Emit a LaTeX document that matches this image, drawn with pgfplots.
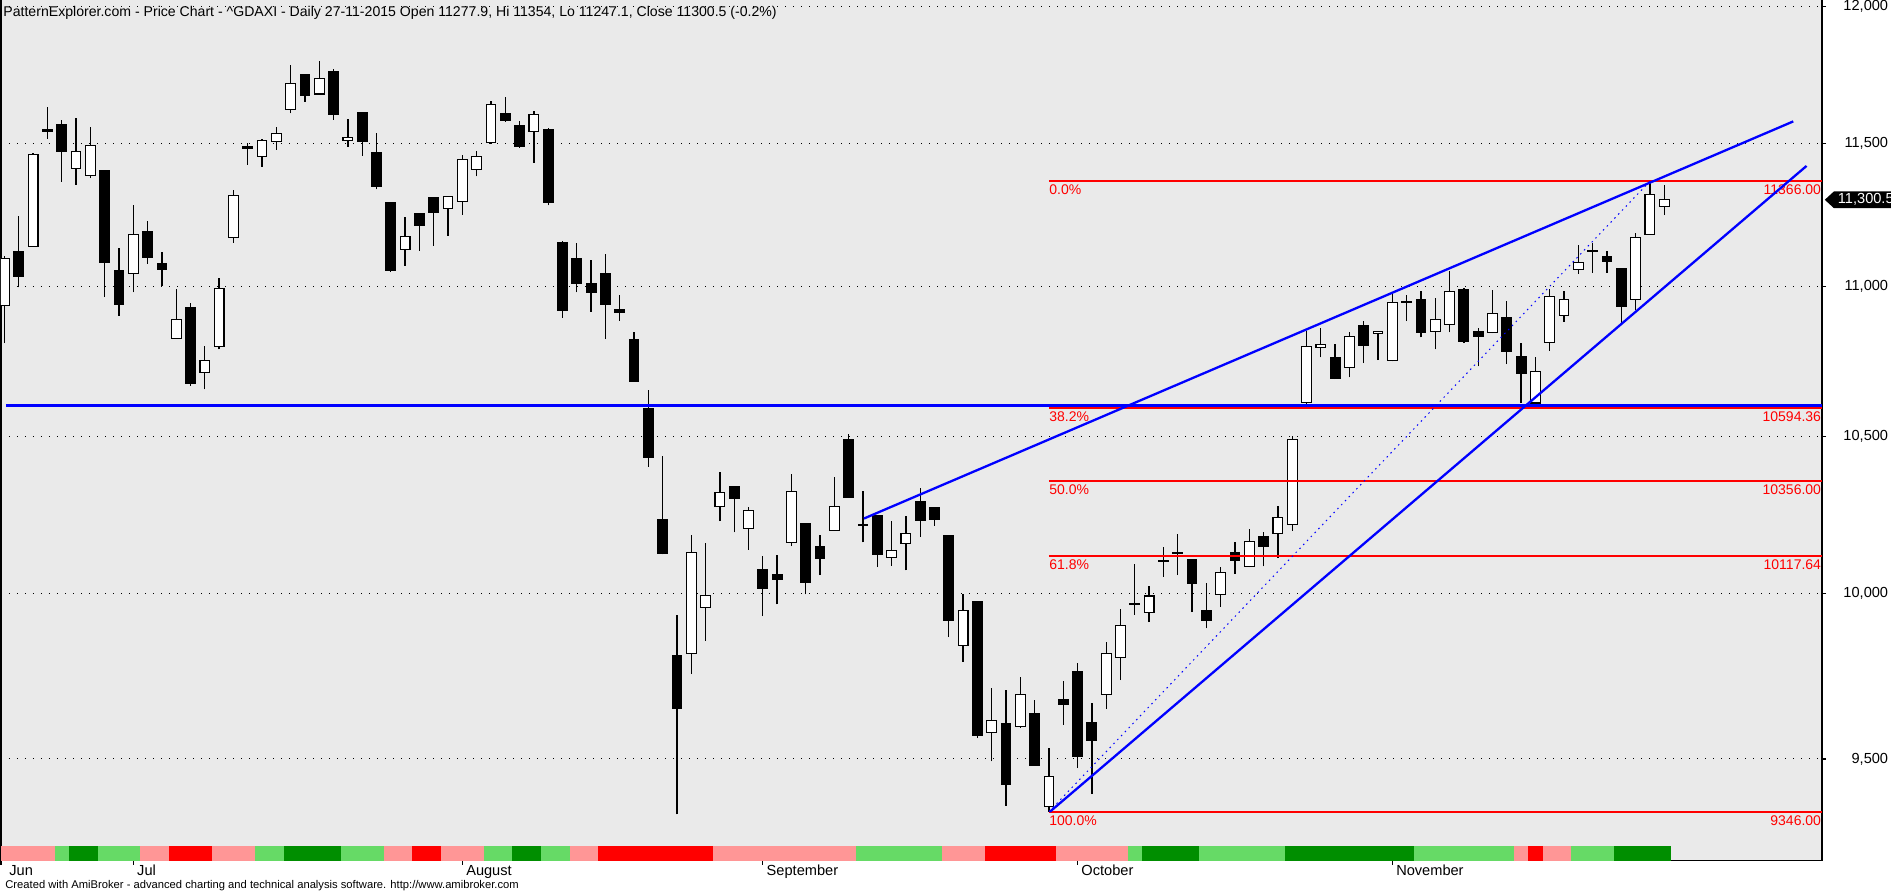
\documentclass[border=0pt]{standalone}
\usepackage{fontspec}
\setmainfont{Liberation Sans}
\usepackage{pgfplots}
\pgfplotsset{compat=1.18}
\usepackage{pgfplotstable}
\usetikzlibrary{shapes.symbols}

\definecolor{bgc}{RGB}{234,234,234}
\definecolor{stpink}{RGB}{255,150,150}
\definecolor{stlg}{RGB}{102,218,102}
\definecolor{stdg}{RGB}{0,142,0}
\definecolor{stred}{RGB}{255,0,0}
\definecolor{lnblue}{RGB}{0,0,255}
\definecolor{lnred}{RGB}{255,0,0}

% Daily DAX candles, 18 Jun 2015 (row 0) to 27 Nov 2015 (row 116)
\pgfplotstableread{
O H L C
10936 11104 10809 11098
11122 11243 10998 11036
11138 11466 11138 11462
11548 11631 11517 11543
11566 11585 11365 11470
11410 11591 11353 11470
11387 11558 11377 11492
11404 11406 10964 11082
11056 11132 10902 10941
11046 11283 10981 11181
11191 11227 11078 11100
11080 11118 11004 11058
10824 10992 10824 10888
10930 10943 10667 10676
10712 10799 10655 10750
10796 11030 10788 10994
11169 11335 11151 11317
11490 11502 11424 11482
11452 11517 11418 11512
11506 11560 11478 11537
11622 11784 11608 11716
11747 11751 11649 11672
11678 11799 11678 11734
11761 11770 11585 11604
11510 11587 11488 11521
11612 11614 11456 11508
11468 11539 11337 11349
11289 11293 11050 11054
11128 11241 11072 11173
11251 11253 11124 11211
11307 11311 11141 11257
11271 11315 11175 11311
11295 11458 11249 11444
11406 11472 11383 11454
11502 11652 11498 11639
11606 11668 11577 11583
11562 11581 11484 11488
11544 11616 11432 11604
11548 11556 11281 11291
11153 11156 10894 10920
11098 11151 10981 11012
11010 11090 10915 10981
11044 11112 10822 10938
10921 10972 10885 10913
10820 10847 10680 10682
10593 10653 10402 10431
10232 10437 10123 10125
9809 9933 9338 9650
9817 10185 9754 10130
9957 10158 9855 9995
10274 10384 10228 10319
10337 10339 10192 10301
10205 10274 10138 10261
10076 10118 9931 10015
10058 10121 9967 10045
10161 10379 10149 10321
10219 10221 9998 10036
10149 10185 10058 10111
10199 10370 10197 10274
10491 10508 10302 10304
10218 10324 10161 10214
10245 10247 10083 10123
10114 10228 10087 10134
10156 10245 10073 10190
10290 10333 10178 10230
10270 10274 10214 10232
10181 10183 9866 9917
9840 9998 9791 9947
9976 9978 9562 9571
9579 9712 9493 9614
9604 9705 9363 9426
9597 9745 9593 9691
9636 9676 9480 9482
9362 9533 9346 9448
9676 9733 9602 9662
9760 9788 9473 9507
9607 9666 9397 9554
9693 9852 9648 9817
9805 9952 9735 9903
9968 10092 9935 9970
9941 10025 9912 9993
10100 10147 10053 10103
10130 10188 10058 10125
10107 10109 9943 10031
9947 10034 9893 9917
9998 10083 9959 10065
10130 10163 10062 10103
10085 10203 10083 10163
10178 10194 10085 10149
10188 10277 10112 10239
10216 10502 10198 10489
10612 10850 10591 10796
10794 10860 10761 10803
10761 10807 10689 10691
10727 10845 10695 10831
10867 10883 10742 10801
10841 10850 10752 10847
10750 10975 10748 10947
10945 10970 10883 10949
10956 10985 10828 10845
10849 10960 10788 10888
10871 11052 10845 10983
10991 10994 10809 10814
10849 10860 10731 10833
10845 10989 10843 10909
10894 10951 10739 10780
10765 10809 10610 10708
10610 10761 10604 10714
10811 10992 10784 10968
10903 10985 10881 10958
11060 11143 11044 11084
11122 11151 11048 11125
11104 11122 11048 11088
11062 11064 10869 10932
10955 11185 10922 11169
11181 11366 11179 11319
11277.9 11354 11247.1 11300.5
}\ohlc

\pgfplotsset{
  candlewick/.style={black, line width=0.65pt},
  candlebody/.style={draw=black, line width=0.55pt},
  fibline/.style={lnred, line width=1pt},
  trendline/.style={lnblue, line width=1.15pt},
}
\tikzset{
  fiblab/.style={text=lnred, font=\fontsize{7}{8}\selectfont, inner sep=0pt, yshift=-1.7pt},
}

% one block of the coloured strip under the candles
\newcommand\seg[3]{\addplot[fill=#3, draw=none] coordinates {(#1,9205) (#2,9205) (#2,9247) (#1,9247)} -- cycle;}

\begin{document}
\begin{tikzpicture}
\useasboundingbox (0pt,0pt) rectangle (945.5pt,446pt);
\begin{axis}[
  at={(0.5pt,446pt)}, anchor=north west,
  scale only axis, width=910.5pt, height=430.5pt,
  xmin=-0.247, xmax=127.03,
  ymode=log, ymin=9205, ymax=12025,
  axis background/.style={fill=bgc},
  axis line style={black, line width=0.6pt},
  clip mode=individual,
  xtick={-0.247,9,32,53,75,97},
  xticklabels={\hspace*{2.25pt}Jun,Jul,August,September,October,November},
  xtick pos=bottom, ytick pos=right, yticklabel pos=right,
  tick align=outside, major tick length=2pt,
  tick style={black, line width=0.6pt},
  ytick={9500,10000,10500,11000,11500,12000},
  yticklabels={{9,500},{10,000},{10,500},{11,000},{11,500},{12,000}},
  yminorticks=false, xminorticks=false,
  ymajorgrids,
  major grid style={black, line width=0.5pt, dash pattern=on 0.5pt off 3.5pt},
  tick label style={font=\fontsize{7.3}{8}\selectfont, inner sep=0pt},
  xticklabel style={anchor=north west, xshift=1.75pt},
  yticklabel style={anchor=east, xshift=31.25pt},
]
% coloured strip
\seg{-0.247}{3.5}{stpink}
\seg{3.5}{4.5}{stlg}
\seg{4.5}{6.5}{stdg}
\seg{6.5}{9.5}{stlg}
\seg{9.5}{11.5}{stpink}
\seg{11.5}{14.5}{stred}
\seg{14.5}{17.5}{stpink}
\seg{17.5}{19.5}{stlg}
\seg{19.5}{23.5}{stdg}
\seg{23.5}{26.5}{stlg}
\seg{26.5}{28.5}{stpink}
\seg{28.5}{30.5}{stred}
\seg{30.5}{33.5}{stpink}
\seg{33.5}{35.5}{stlg}
\seg{35.5}{37.5}{stdg}
\seg{37.5}{39.5}{stlg}
\seg{39.5}{41.5}{stpink}
\seg{41.5}{49.5}{stred}
\seg{49.5}{59.5}{stpink}
\seg{59.5}{65.5}{stlg}
\seg{65.5}{68.5}{stpink}
\seg{68.5}{73.5}{stred}
\seg{73.5}{78.5}{stpink}
\seg{78.5}{79.5}{stlg}
\seg{79.5}{83.5}{stdg}
\seg{83.5}{89.5}{stlg}
\seg{89.5}{98.5}{stdg}
\seg{98.5}{105.5}{stlg}
\seg{105.5}{106.5}{stpink}
\seg{106.5}{107.5}{stred}
\seg{107.5}{109.5}{stpink}
\seg{109.5}{112.5}{stlg}
\seg{112.5}{116.5}{stdg}

% candlesticks: wick from low to high, body from open to close
\pgfplotsforeachungrouped \k in {0,...,116}{%
  \pgfplotstablegetelem{\k}{O}\of\ohlc\let\cO\pgfplotsretval
  \pgfplotstablegetelem{\k}{H}\of\ohlc\let\cH\pgfplotsretval
  \pgfplotstablegetelem{\k}{L}\of\ohlc\let\cL\pgfplotsretval
  \pgfplotstablegetelem{\k}{C}\of\ohlc\let\cC\pgfplotsretval
  \pgfmathsetmacro\xl{\k-0.34}%
  \pgfmathsetmacro\xr{\k+0.34}%
  \pgfmathtruncatemacro\up{(\cC>=\cO)}%
  \ifnum\up=1 \def\bodycol{white}\else\def\bodycol{black}\fi
  \edef\drawcandle{%
    \noexpand\addplot[candlewick] coordinates {(\k,\cL) (\k,\cH)};%
    \noexpand\addplot[candlebody, fill=\bodycol] coordinates {(\xl,\cO) (\xr,\cO) (\xr,\cC) (\xl,\cC)} -- cycle;%
  }%
  \drawcandle
}

% Fibonacci retracement levels
\addplot[fibline] coordinates {(73,11366) (127.03,11366)};
\addplot[fibline] coordinates {(73,10594.36) (127.03,10594.36)};
\addplot[fibline] coordinates {(73,10356) (127.03,10356)};
\addplot[fibline] coordinates {(73,10117.64) (127.03,10117.64)};
\addplot[fibline] coordinates {(73,9346) (127.03,9346)};
\node[fiblab, anchor=north west] at (axis cs:73,11366) {0.0\%};
\node[fiblab, anchor=north west] at (axis cs:73,10594.36) {38.2\%};
\node[fiblab, anchor=north west] at (axis cs:73,10356) {50.0\%};
\node[fiblab, anchor=north west] at (axis cs:73,10117.64) {61.8\%};
\node[fiblab, anchor=north west] at (axis cs:73,9346) {100.0\%};
\node[fiblab, anchor=north east, xshift=-0.3pt] at (axis cs:127.03,11366) {11366.00};
\node[fiblab, anchor=north east, xshift=-0.3pt] at (axis cs:127.03,10594.36) {10594.36};
\node[fiblab, anchor=north east, xshift=-0.3pt] at (axis cs:127.03,10356) {10356.00};
\node[fiblab, anchor=north east, xshift=-0.3pt] at (axis cs:127.03,10117.64) {10117.64};
\node[fiblab, anchor=north east, xshift=-0.3pt] at (axis cs:127.03,9346) {9346.00};

% trend lines
\addplot[trendline] coordinates {(0.1,10602) (127.03,10602)};
\addplot[trendline] coordinates {(60.07,10236) (125.02,11579)};
\addplot[trendline] coordinates {(73.07,9346) (125.95,11420)};
\addplot[lnblue, line width=0.5pt, dash pattern=on 0.75pt off 2pt] coordinates {(73,9346) (115,11366)};

% last close marker on the price scale
\node[signal, signal to=west, signal pointer angle=85, fill=black, text=white,
      font=\fontsize{7.3}{8}\selectfont, inner xsep=2pt, inner ysep=0pt,
      minimum height=8.35pt, anchor=west, xshift=1.1pt] at (axis cs:127.03,11300.5) {11,300.5};
\end{axis}

\node[anchor=base west, inner sep=0pt, font=\fontsize{7.05}{8}\selectfont] at (1.5pt,437.5pt)
  {PatternExplorer.com - Price Chart - \textasciicircum GDAXI - Daily 27-11-2015 Open 11277.9, Hi 11354, Lo 11247.1, Close 11300.5 (-0.2\%)};
\node[anchor=base west, inner sep=0pt, font=\fontsize{5.6}{6.5}\selectfont] at (2.5pt,1.5pt)
  {Created with AmiBroker - advanced charting and technical analysis software. http://www.amibroker.com};
\end{tikzpicture}
\end{document}
